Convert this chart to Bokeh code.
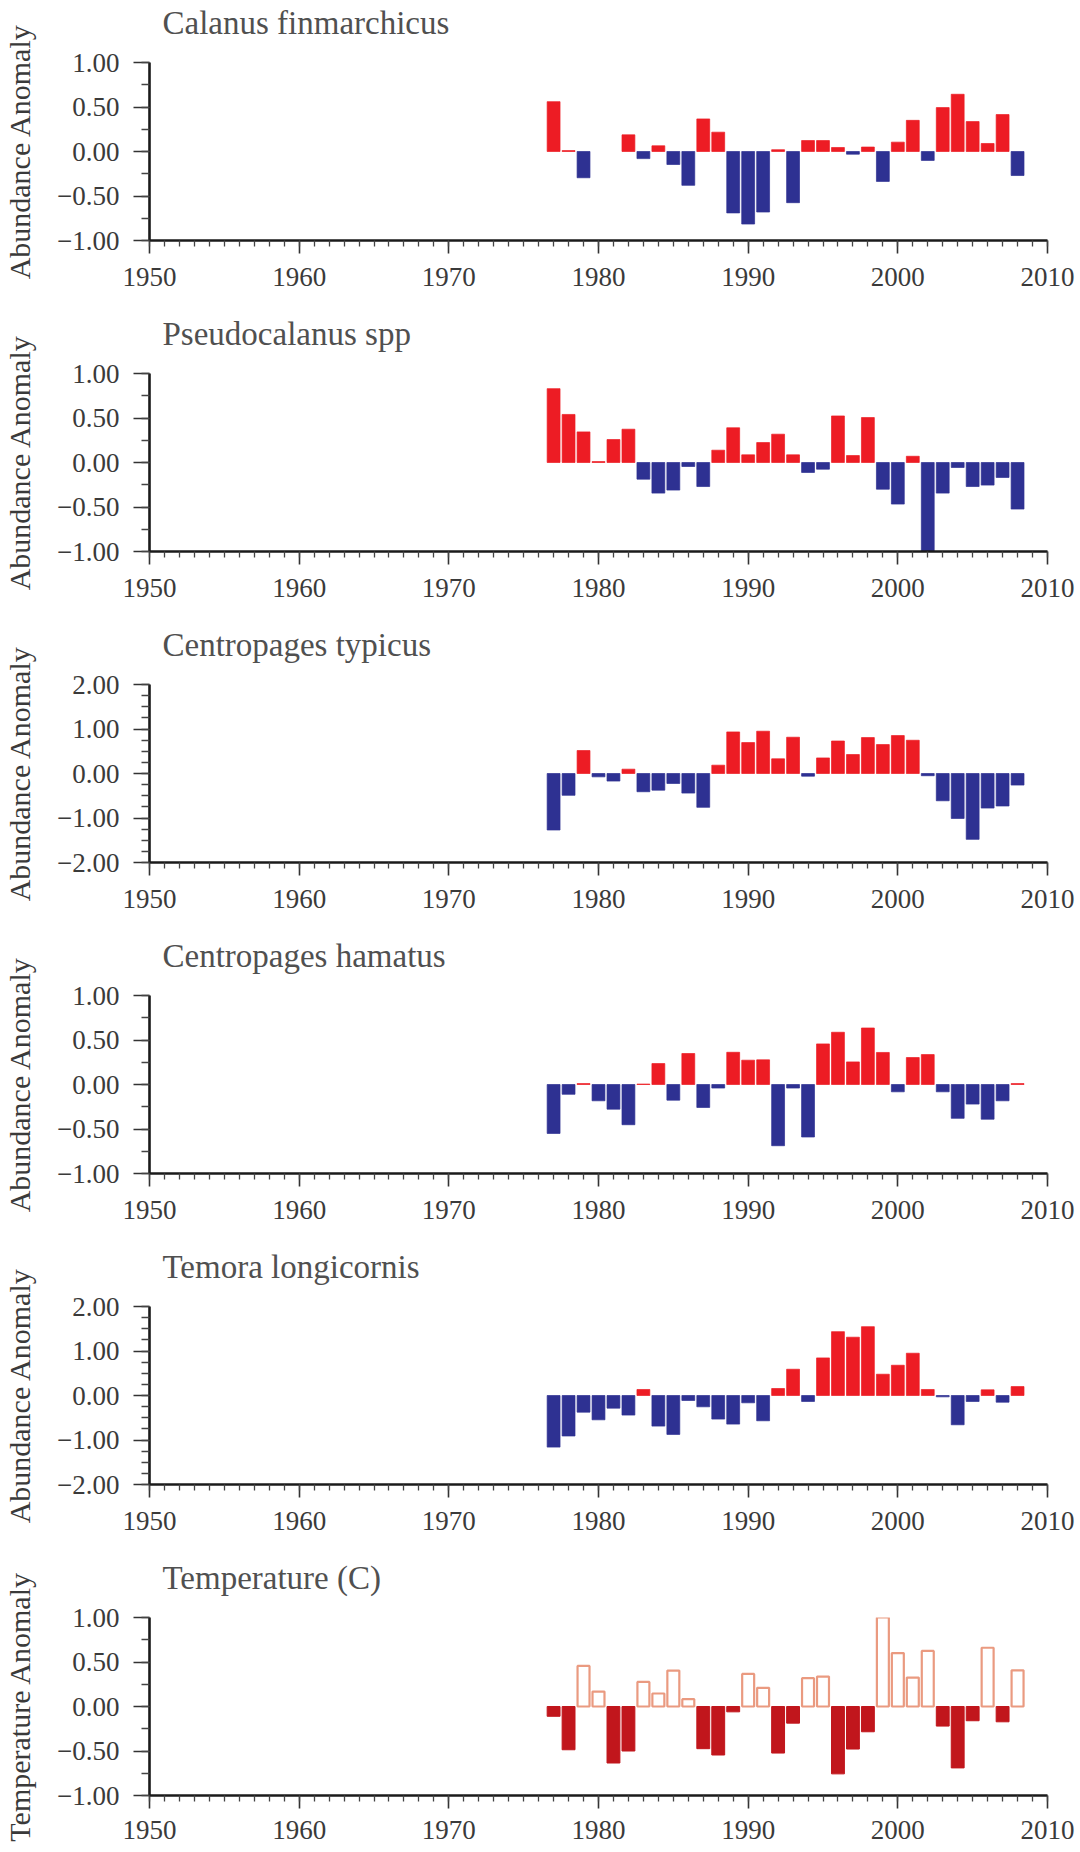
from bokeh.plotting import figure
from bokeh.layouts import column
from bokeh.models import Range1d, FixedTicker, CustomJSTickFormatter, ColumnDataSource, Title
from bokeh.embed import file_html
from bokeh.resources import INLINE

years = list(range(1977, 2009))

calanus = [0.56, 0.01, -0.295, None, None, 0.187, -0.08, 0.064, -0.146, -0.38,
           0.366, 0.217, -0.69, -0.815, -0.68, 0.02, -0.575, 0.123, 0.123, 0.045,
           -0.03, 0.05, -0.336, 0.105, 0.35, -0.10, 0.493, 0.643, 0.336, 0.09,
           0.415, -0.27]
pseudocalanus = [0.83, 0.54, 0.344, 0.01, 0.258, 0.374, -0.187, -0.344, -0.31, -0.045,
                 -0.27, 0.138, 0.39, 0.086, 0.224, 0.318, 0.086, -0.112, -0.075, 0.523,
                 0.078, 0.505, -0.30, -0.467, 0.07, -1.0, -0.344, -0.056, -0.27, -0.254,
                 -0.168, -0.523]
centropages_typicus = [-1.27, -0.49, 0.516, -0.075, -0.17, 0.097, -0.41, -0.374, -0.224, -0.44,
                       -0.76, 0.187, 0.934, 0.695, 0.95, 0.33, 0.815, -0.06, 0.35, 0.73,
                       0.426, 0.807, 0.65, 0.852, 0.747, -0.05, -0.613, -1.01, -1.48, -0.777,
                       -0.73, -0.26]
centropages_hamatus = [-0.55, -0.11, 0.01, -0.183, -0.277, -0.452, 0.005, 0.235, -0.176, 0.348,
                       -0.258, -0.04, 0.362, 0.273, 0.277, -0.688, -0.04, -0.59, 0.456, 0.587,
                       0.254, 0.635, 0.36, -0.082, 0.303, 0.336, -0.082, -0.38, -0.22, -0.39,
                       -0.183, 0.01]
temora = [-1.16, -0.91, -0.374, -0.546, -0.284, -0.44, 0.135, -0.688, -0.874, -0.112,
          -0.254, -0.53, -0.643, -0.164, -0.568, 0.157, 0.59, -0.134, 0.845, 1.435,
          1.31, 1.547, 0.478, 0.68, 0.95, 0.135, -0.03, -0.658, -0.134, 0.127,
          -0.15, 0.2]
temperature = [-0.11, -0.486, 0.456, 0.168, -0.635, -0.50, 0.276, 0.146, 0.404, 0.082,
               -0.474, -0.545, -0.06, 0.366, 0.21, -0.523, -0.187, 0.318, 0.336, -0.757,
               -0.478, -0.284, 1.0, 0.60, 0.325, 0.625, -0.22, -0.69, -0.16, 0.66,
               -0.172, 0.407]

titles = ["Calanus finmarchicus", "Pseudocalanus spp", "Centropages typicus",
          "Centropages hamatus", "Temora longicornis", "Temperature (C)"]
ylabels = ["Abundance Anomaly"] * 5 + ["Temperature Anomaly"]
series = [calanus, pseudocalanus, centropages_typicus, centropages_hamatus, temora, temperature]
ymaxes = [1, 1, 2, 1, 2, 1]
x_ticks = [1950, 1960, 1970, 1980, 1990, 2000, 2010]

RED = "#ED1C24"
BLUE = "#2E3192"
TEMP_NEG = "#C1161C"
TEMP_POS = "#EA9A80"
FONT = "Liberation Serif"
TEXT = "#3a3a3a"

fmt = CustomJSTickFormatter(code="""
    const s = Math.abs(tick).toFixed(2);
    return (tick < -1e-9 ? '\\u2212' : '') + s;
""")


def make_panel(i):
    vals = series[i]
    ymax = ymaxes[i]
    last = (i == len(series) - 1)
    p = figure(frame_width=898, frame_height=178,
               x_range=Range1d(1950, 2010), y_range=Range1d(-ymax, ymax),
               output_backend="svg", toolbar_location=None,
               min_border_left=149, min_border_right=30,
               min_border_top=62, min_border_bottom=57 if last else 71)
    p.title.text = ""
    # spacer between the frame and the panel title
    spacer = Title(text=" ", text_font_size="2px", standoff=18, text_color="white")
    p.add_layout(spacer, "above")
    ttl = Title(text=titles[i], text_font=FONT, text_font_size="33px",
                text_font_style="normal", text_color="#505050",
                align="left", vertical_align="bottom", offset=13, standoff=0)
    p.add_layout(ttl, "above")

    p.grid.visible = False
    p.outline_line_color = None
    p.background_fill_color = "white"

    xs = [y for y, v in zip(years, vals) if v is not None]
    tops = [v for v in vals if v is not None]
    if i == 5:
        neg = ColumnDataSource(dict(x=[x for x, t in zip(xs, tops) if t < 0],
                                    top=[t for t in tops if t < 0]))
        pos = ColumnDataSource(dict(x=[x for x, t in zip(xs, tops) if t >= 0],
                                    top=[t for t in tops if t >= 0]))
        p.vbar(x="x", top="top", bottom=0, width=0.86, source=neg,
               fill_color=TEMP_NEG, line_color=TEMP_NEG, line_width=1)
        p.vbar(x="x", top="top", bottom=0, width=0.8, source=pos,
               fill_color="white", line_color=TEMP_POS, line_width=2.2)
    else:
        colors = [RED if t >= 0 else BLUE for t in tops]
        src = ColumnDataSource(dict(x=xs, top=tops, color=colors))
        p.vbar(x="x", top="top", bottom=0, width=0.86, source=src,
               fill_color="color", line_color="color", line_width=1, line_alpha=0.7)

    # axes
    xa = p.xaxis[0]
    xa.ticker = FixedTicker(ticks=x_ticks, minor_ticks=list(range(1950, 2011)))
    xa.major_label_overrides = {t: str(t) for t in x_ticks}
    xa.major_tick_in = 0
    xa.major_tick_out = 13
    xa.minor_tick_in = 0
    xa.minor_tick_out = 6
    xa.major_label_standoff = 12 if last else 14

    ya = p.yaxis[0]
    step = 0.5 if ymax == 1 else 1.0
    n = int(round(2 * ymax / step))
    yt = [-ymax + k * step for k in range(n + 1)]
    ym = [-ymax + k * 0.25 for k in range(int(round(2 * ymax / 0.25)) + 1)]
    ya.ticker = FixedTicker(ticks=yt, minor_ticks=ym)
    ya.formatter = fmt
    ya.major_tick_in = 0
    ya.major_tick_out = 16
    ya.minor_tick_in = 0
    ya.minor_tick_out = 8
    ya.major_label_standoff = 14
    ya.axis_label = ylabels[i]
    ya.axis_label_standoff = 18
    ya.axis_label_text_font = FONT
    ya.axis_label_text_font_size = "30px"
    ya.axis_label_text_font_style = "normal"
    ya.axis_label_text_color = TEXT

    for ax in (xa, ya):
        ax.axis_line_width = 2.6
        ax.axis_line_color = "#1a1a1a"
        ax.major_tick_line_width = 1.6
        ax.major_tick_line_color = "#333333"
        ax.minor_tick_line_width = 1.3
        ax.minor_tick_line_color = "#444444"
        ax.major_label_text_font = FONT
        ax.major_label_text_font_size = "27px"
        ax.major_label_text_color = TEXT
    return p


panels = [make_panel(i) for i in range(len(series))]
layout = column(*panels, spacing=0)

open("out.html", "w").write(file_html(layout, INLINE))
